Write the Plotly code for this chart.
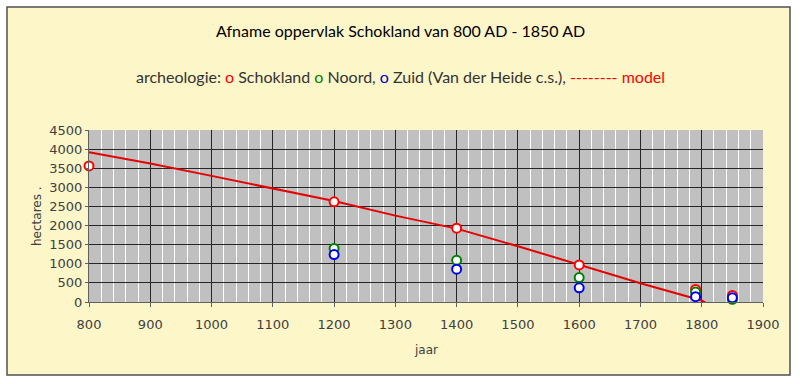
import plotly.graph_objects as go

# ---- data ----
obs_years = [800, 1200, 1400, 1600, 1790, 1850]
schokland = [3560, 2620, 1930, 970, 330, 170]
noord_years = [1200, 1400, 1600, 1790, 1850]
noord = [1400, 1090, 640, 260, 70]
zuid_years = [1200, 1400, 1600, 1790, 1850]
zuid = [1240, 860, 370, 140, 110]
model_years = [800, 900, 1000, 1100, 1200, 1300, 1400, 1500, 1600, 1700, 1800, 1820]
model_vals = [3920, 3625, 3300, 2970, 2640, 2260, 1920, 1460, 970, 490, 40, -150]
x_ticks = [800, 900, 1000, 1100, 1200, 1300, 1400, 1500, 1600, 1700, 1800, 1900]
y_ticks = [0, 500, 1000, 1500, 2000, 2500, 3000, 3500, 4000, 4500]

W, H = 800, 384
L, R, T, B = 89, 37, 130, 82
pw = W - L - R
ph = H - T - B

def px(x):
    return (x - L) / pw

def py(y):
    return (H - B - y) / ph

fig = go.Figure()

fig.add_trace(go.Scatter(x=model_years, y=model_vals, mode="lines",
                         line=dict(color="#e60000", width=2), showlegend=False))

def mk(x, y, c):
    fig.add_trace(go.Scatter(x=x, y=y, mode="markers", showlegend=False,
                             marker=dict(size=9, color="white", line=dict(color=c, width=2)),
                             cliponaxis=False))

mk(obs_years, schokland, "#ff0000")
mk(noord_years, noord, "#008000")
mk(zuid_years, zuid, "#0000ee")

tickfont = dict(family="DejaVu Sans", size=13, color="#404040")
fig.update_xaxes(range=[800, 1900], tickvals=x_ticks, showgrid=True,
                 gridcolor="#262626", gridwidth=1,
                 minor=dict(dtick=20, tick0=800, showgrid=True, gridcolor="#ffffff", gridwidth=1.3),
                 showline=True, linecolor="#606060", ticks="outside", ticklen=4,
                 tickcolor="#606060", tickfont=tickfont, zeroline=False,
                 ticklabelstandoff=6)
fig.update_yaxes(range=[0, 4500], tickvals=y_ticks, showgrid=True,
                 gridcolor="#262626", gridwidth=1,
                 showline=True, linecolor="#606060", ticks="outside", ticklen=3,
                 tickcolor="#606060", tickfont=tickfont, zeroline=False,
                 ticklabelstandoff=0)

# white strips outside the framed yellow panel, plus the frame itself
shapes = [
    dict(type="rect", xref="paper", yref="paper", x0=px(0), x1=px(7), y0=py(H), y1=py(0),
         fillcolor="white", line=dict(width=0), layer="below"),
    dict(type="rect", xref="paper", yref="paper", x0=px(790), x1=px(W), y0=py(H), y1=py(0),
         fillcolor="white", line=dict(width=0), layer="below"),
    dict(type="rect", xref="paper", yref="paper", x0=px(0), x1=px(W), y0=py(7), y1=py(0),
         fillcolor="white", line=dict(width=0), layer="below"),
    dict(type="rect", xref="paper", yref="paper", x0=px(0), x1=px(W), y0=py(H), y1=py(375),
         fillcolor="white", line=dict(width=0), layer="below"),
    dict(type="rect", xref="paper", yref="paper",
         x0=px(7), x1=px(790), y0=py(375), y1=py(7),
         fillcolor="rgba(0,0,0,0)", line=dict(color="#505050", width=1.5), layer="below"),
]

capfont = "Lato, Open Sans, sans-serif"
annotations = [
    dict(text="Afname oppervlak Schokland van 800 AD - 1850 AD", xref="paper", yref="paper",
         x=px(400), y=py(30), showarrow=False, xanchor="center", yanchor="middle",
         font=dict(family=capfont, size=16, color="black")),
    dict(text="archeologie: <span style='color:#ff0000'>o</span> Schokland "
              "<span style='color:#008000'>o</span> Noord, "
              "<span style='color:#0000cc'>o</span> Zuid (Van der Heide c.s.), "
              "<span style='color:#ff0000'>-------- model</span>",
         xref="paper", yref="paper", x=px(400), y=py(76), showarrow=False,
         xanchor="center", yanchor="middle",
         font=dict(family=capfont, size=16, color="#333333")),
    dict(text="hectares .", xref="paper", yref="paper", x=px(37), y=py(216),
         showarrow=False, textangle=-90, xanchor="center", yanchor="middle",
         font=dict(family="DejaVu Sans", size=12, color="#404040")),
    dict(text="jaar", xref="paper", yref="paper", x=px(426), y=py(350),
         showarrow=False, xanchor="center", yanchor="middle",
         font=dict(family="DejaVu Sans", size=12, color="#404040")),
]

fig.update_layout(width=W, height=H, autosize=False,
                  margin=dict(l=L, r=R, t=T, b=B, pad=0),
                  paper_bgcolor="#fdf6c9", plot_bgcolor="#c0c0c0",
                  shapes=shapes, annotations=annotations, showlegend=False)

fig.write_html("out.html", config={"displayModeBar": False},
               post_script="document.body.style.margin='0';")
